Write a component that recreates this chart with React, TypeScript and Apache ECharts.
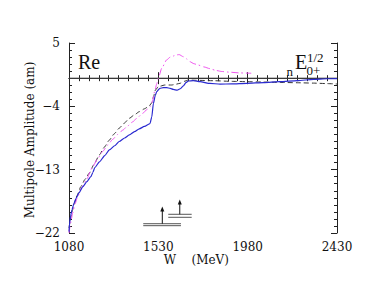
import React, { useEffect, useRef } from "react";
import * as echarts from "echarts";

const blueW = [1080, 1083, 1088, 1095, 1105, 1115, 1130, 1150, 1170, 1190, 1200, 1210, 1233, 1260, 1283, 1310, 1333, 1360, 1384, 1410, 1434, 1460, 1488, 1497, 1505, 1515, 1522, 1538, 1555, 1572, 1590, 1605, 1625, 1640, 1656, 1670, 1681, 1706, 1740, 1790, 1841, 1900, 1975, 2060, 2143, 2230, 2311, 2380, 2430];
const blueV = [-21.8, -20.6, -19.6, -18.7, -17.8, -17.1, -16.3, -15.4, -14.7, -14.0, -13.4, -12.7, -11.9, -11.0, -10.2, -9.6, -9.0, -8.5, -8.07, -7.6, -7.2, -6.85, -6.45, -5.5, -3.6, -2.4, -1.9, -1.44, -1.35, -1.35, -1.45, -1.6, -1.7, -1.5, -1.1, -0.6, -0.4, -0.36, -0.5, -0.75, -0.83, -0.82, -0.73, -0.62, -0.5, -0.35, -0.16, -0.08, -0.05];

const dashW = [1080, 1085, 1090, 1098, 1107, 1120, 1140, 1160, 1182, 1205, 1233, 1258, 1283, 1308, 1333, 1358, 1384, 1410, 1434, 1460, 1484, 1497, 1507, 1515, 1530, 1563, 1597, 1620, 1639, 1660, 1681, 1720, 1807, 1900, 1975, 2060, 2143, 2230, 2311, 2380, 2430];
const dashV = [-21.3, -20.5, -19.7, -18.7, -17.8, -16.7, -15.4, -14.4, -13.5, -12.3, -10.9, -9.8, -8.8, -7.9, -7.1, -6.4, -5.7, -5.2, -4.76, -4.35, -3.95, -3.5, -2.5, -1.7, -1.2, -0.97, -0.97, -0.85, -0.73, -0.45, -0.26, -0.3, -0.36, -0.45, -0.5, -0.55, -0.6, -0.65, -0.7, -0.77, -0.83];

const magW = [1080, 1085, 1092, 1098, 1110, 1124, 1145, 1166, 1199, 1225, 1250, 1275, 1300, 1325, 1350, 1375, 1401, 1425, 1451, 1475, 1490, 1500, 1513, 1522, 1530, 1547, 1572, 1590, 1605, 1620, 1635, 1656, 1672, 1689, 1710, 1731, 1760, 1790, 1820, 1850, 1890, 1940, 1998];
const magV = [-22.0, -21.1, -20.0, -19.2, -17.9, -16.8, -15.5, -14.5, -12.6, -11.4, -10.4, -9.5, -8.7, -8.0, -7.4, -6.8, -6.2, -5.6, -5.0, -4.4, -4.0, -3.3, -1.7, -0.8, 0.0, 1.4, 2.6, 3.0, 3.15, 3.3, 3.35, 3.05, 2.75, 2.35, 2.05, 1.87, 1.6, 1.35, 1.1, 0.95, 0.85, 0.75, 0.7];

const zeroW = [1080, 2430];
const zeroV = [0, 0];

// threshold markers (data coordinates)
const barStart = [1454, 1580];
const barEnd = [1644, 1698];
const barUpper = [-20.68, -19.34];
const barLower = [-20.96, -19.77];
const arrowW = [1550, 1638];
const arrowTip = [-18.6, -17.6];

const xTicks = { min: 1080, max: 2430, step: 450 };
const yTicks = { min: -22, max: 5, step: 9 };

const FONT = "'DejaVu Serif', serif";
const FONT2 = "'Liberation Serif', serif";

function pairs(xs: number[], ys: number[]) {
  return xs.map((x, i) => [x, ys[i]]);
}

export default function App() {
  const ref = useRef<HTMLDivElement>(null);
  useEffect(() => {
    const chart = echarts.init(ref.current!, null, { renderer: "svg" });
    const axisColor = "#222";
    const baseX = {
      type: "value" as const,
      min: xTicks.min,
      max: xTicks.max,
      interval: xTicks.step,
      axisLine: { show: true, lineStyle: { color: axisColor, width: 1 } },
      axisTick: { show: true, inside: true, length: 6, lineStyle: { color: axisColor } },
      minorTick: { show: true, splitNumber: 9, length: 3, lineStyle: { color: axisColor } },
      splitLine: { show: false },
      minorSplitLine: { show: false },
    };
    const baseY = {
      type: "value" as const,
      min: yTicks.min,
      max: yTicks.max,
      interval: yTicks.step,
      axisLine: { show: true, onZero: false, lineStyle: { color: axisColor, width: 1 } },
      axisTick: { show: true, inside: true, length: 6, lineStyle: { color: axisColor } },
      minorTick: { show: true, splitNumber: 9, length: 3, lineStyle: { color: axisColor } },
      splitLine: { show: false },
      minorSplitLine: { show: false },
    };
    const bars: any[] = [];
    barStart.forEach((s, i) => {
      [barUpper[i], barLower[i]].forEach((lv) => {
        bars.push({
          type: "line",
          data: [[s, lv], [barEnd[i], lv]],
          symbol: "none",
          silent: true,
          lineStyle: { color: "#555", width: 1 },
        });
      });
      bars.push({
        type: "line",
        data: [
          { value: [arrowW[i], barUpper[i]], symbol: "none" },
          { value: [arrowW[i], arrowTip[i]], symbol: "triangle", symbolSize: [4, 5] },
        ],
        showSymbol: true,
        silent: true,
        itemStyle: { color: "#111" },
        lineStyle: { color: "#111", width: 1 },
      });
    });
    chart.setOption({
      animation: false,
      grid: { left: 69, right: 37, top: 43, bottom: 56, containLabel: false },
      xAxis: [
        {
          ...baseX,
          position: "bottom",
          axisLabel: { show: true, margin: 8, fontFamily: FONT, fontSize: 12, color: "#111", formatter: (v: number) => String(v) },
        },
        { ...baseX, position: "top", axisLabel: { show: false } },
      ],
      yAxis: [
        {
          ...baseY,
          position: "left",
          axisLabel: {
            show: true,
            margin: 9,
            fontFamily: FONT,
            fontSize: 12,
            color: "#111",
            formatter: (v: number) => (v < 0 ? "\u2212" + Math.abs(v) : String(v)),
          },
        },
        { ...baseY, position: "right", axisLabel: { show: false } },
      ],
      series: [
        {
          type: "line",
          data: pairs(zeroW, zeroV),
          symbol: "none",
          silent: true,
          lineStyle: { color: "#444", width: 1 },
        },
        {
          type: "line",
          data: pairs(dashW, dashV),
          symbol: "none",
          smooth: 0.2,
          smoothMonotone: "x",
          lineStyle: { color: "#333", width: 1, type: [5, 3] },
        },
        {
          type: "line",
          data: pairs(magW, magV),
          symbol: "none",
          smooth: 0.2,
          smoothMonotone: "x",
          lineStyle: { color: "#ee55ee", width: 1, type: [7, 3, 1.5, 3] },
        },
        {
          type: "line",
          data: pairs(blueW, blueV),
          symbol: "none",
          smooth: 0.2,
          smoothMonotone: "x",
          lineStyle: { color: "#2a2ad0", width: 1.2 },
        },
        ...bars,
      ],
      graphic: [
        { type: "text", x: 78, y: 62.3, style: { text: "Re", fontFamily: FONT2, fontSize: 20, fill: "#111", verticalAlign: "middle", align: "left" } },
        { type: "text", x: 295, y: 61.7, style: { text: "E", fontFamily: FONT2, fontSize: 20, fill: "#111", verticalAlign: "middle", align: "left" } },
        { type: "text", x: 307, y: 57, style: { text: "1/2", fontFamily: FONT2, fontSize: 13, fill: "#111", verticalAlign: "middle", align: "left" } },
        { type: "text", x: 306.5, y: 70.8, style: { text: "0+", fontFamily: FONT2, fontSize: 13, fill: "#111", verticalAlign: "middle", align: "left" } },
        { type: "text", x: 286.5, y: 71.4, style: { text: "n", fontFamily: FONT2, fontSize: 13, fill: "#111", verticalAlign: "middle", align: "left" } },
        { type: "text", x: 170, y: 260, style: { text: "W", fontFamily: FONT, fontSize: 12, fill: "#111", verticalAlign: "middle", align: "center" } },
        { type: "text", x: 191.5, y: 260, style: { text: "(MeV)", fontFamily: FONT, fontSize: 12, fill: "#111", verticalAlign: "middle", align: "left" } },
        { type: "text", x: 30, y: 140, rotation: Math.PI / 2, style: { text: "Multipole Amplitude (am)", fontFamily: FONT, fontSize: 12, fill: "#111", verticalAlign: "middle", align: "center" } },
      ],
    });
    return () => chart.dispose();
  }, []);
  return <div ref={ref} style={{ position: "absolute", left: 0, top: 0, width: 374, height: 289 }} />;
}
